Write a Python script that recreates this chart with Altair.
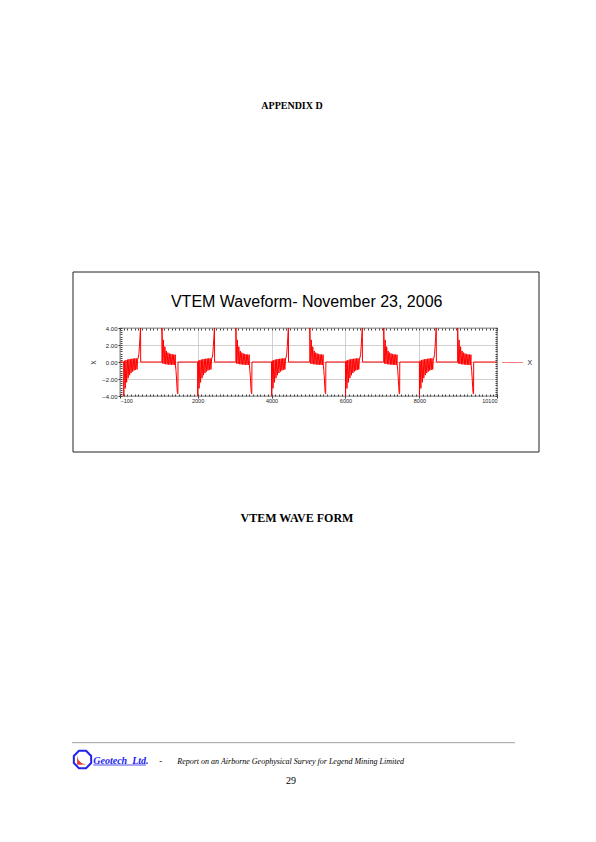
import altair as alt
import pandas as pd

# ---------------- data ----------------
page_heading = ["APPENDIX D"]
chart_title = ["VTEM Waveform- November 23, 2006"]
caption = ["VTEM WAVE FORM"]
company = ["Geotech\u00a0\u00a0Ltd."]
dash = ["-"]
report_line = ["Report on an Airborne Geophysical Survey for Legend Mining Limited"]
page_number = ["29"]

series_name = "X"
cycle_starts = [0, 2000, 4000, 6000, 8000]
# one waveform period (time offset within the period, amplitude)
cycle_offset = [0, 2, 20, 40, 60, 80, 100, 120, 140, 160, 180, 200, 220, 240, 260, 280, 300, 320, 340, 360, 380, 390,
                410, 425, 440, 452, 456, 460,
                1035, 1036, 1055, 1075, 1095, 1115, 1135, 1155, 1175, 1195, 1215, 1235, 1255, 1275, 1295, 1315, 1335,
                1355, 1375, 1395, 1400,
                1415, 1430, 1442, 1452, 1460, 1466, 1470]
cycle_value = [0.0, -4.0, 0.15, -3.1, 0.22, -2.4, 0.28, -1.9, 0.32, -1.55, 0.35, -1.3, 0.38, -1.12, 0.40, -1.0, 0.42,
               -0.93, 0.43, -0.88, 0.45, 0.45,
               0.9, 1.8, 2.9, 3.8, 4.0, 0.0,
               0.0, 4.0, -0.18, 2.6, -0.22, 1.8, -0.26, 1.3, -0.28, 1.1, -0.30, 1.0, -0.32, 0.95, -0.33, 0.90, -0.34,
               0.88, -0.35, 0.86, -0.35,
               -1.0, -2.0, -3.0, -3.6, -3.75, -3.6, 0.0]
lead_t, lead_v = [-100], [0.0]
tail_t, tail_v = [10100], [0.0]

x_label_values = [-100, 2000, 4000, 6000, 8000, 10100]
y_label_values = [-4, -2, 0, 2, 4]
x_minor = list(range(-100, 10101, 100))
y_minor = [v / 4 for v in range(-16, 17)]

assert len(cycle_offset) == len(cycle_value)

ts, vs = list(lead_t), list(lead_v)
for s in cycle_starts:
    ts += [s + o for o in cycle_offset]
    vs += cycle_value
ts += tail_t
vs += tail_v
df = pd.DataFrame({"t": ts, "v": vs, "series": series_name, "i": range(len(ts))})

# ---------------- layout ----------------
OX, OY, W, H = 120, 328, 377, 68
PAGE_W, PAGE_H = 596, 842


def px(x):
    return x - OX


def py(y):
    return y - OY


def xs():
    return alt.Scale(domain=[-100, 10100], nice=False, zero=False)


def ys():
    return alt.Scale(domain=[-4, 4], nice=False, zero=False)


AX_FONT = "Liberation Sans"

main = alt.Chart(df).mark_line(strokeWidth=1, clip=True).encode(
    x=alt.X("t:Q", scale=xs(), axis=alt.Axis(
        values=x_label_values, format="d", labelFlush=True, labelOverlap=False,
        labelFontSize=5.5, labelFont=AX_FONT, labelColor="#222", labelPadding=0,
        tickSize=2, tickColor="#333", grid=True, gridColor="#c4c4c4", gridWidth=0.8,
        domain=False, title=None)),
    y=alt.Y("v:Q", scale=ys(), axis=alt.Axis(
        values=y_label_values, format=".2f", labelOverlap=False,
        labelFontSize=6, labelFont=AX_FONT, labelColor="#222", labelPadding=1,
        tickSize=2, tickColor="#333", grid=True, gridColor="#c4c4c4", gridWidth=0.8,
        domain=False, title="X", titleFont=AX_FONT, titleFontSize=6.5, titleFontWeight="normal",
        titleColor="#222", titleX=px(93), titleY=H / 2, titleAlign="center", titleBaseline="middle")),
    color=alt.Color("series:N", scale=alt.Scale(range=["#ff0000"]), legend=alt.Legend(
        orient="none", legendX=px(501.5), legendY=py(362) - 10.5, title=None, padding=0,
        symbolType="stroke", symbolSize=441, symbolStrokeWidth=1, symbolOpacity=0.5,
        labelFont=AX_FONT, labelFontSize=7, labelColor="#222", labelOffset=4)),
    order="i:Q",
)

minor_bl = alt.Chart(df).mark_line(strokeOpacity=0).encode(
    x=alt.X("t:Q", scale=xs(), axis=alt.Axis(orient="bottom", values=x_minor, labels=False, tickSize=2,
                                             tickColor="#444", offset=-2, domain=False, grid=False, title=None)),
    y=alt.Y("v:Q", scale=ys(), axis=alt.Axis(orient="left", values=y_minor, labels=False, tickSize=2,
                                             tickColor="#444", offset=-2, domain=False, grid=False, title=None)),
)
minor_tr = alt.Chart(df).mark_line(strokeOpacity=0).encode(
    x=alt.X("t:Q", scale=xs(), axis=alt.Axis(orient="top", values=x_minor, labels=False, tickSize=2,
                                             tickColor="#444", offset=-2, domain=False, grid=False, title=None)),
    y=alt.Y("v:Q", scale=ys(), axis=alt.Axis(orient="right", values=y_minor, labels=False, tickSize=2,
                                             tickColor="#444", offset=-2, domain=False, grid=False, title=None)),
)


def one():
    return pd.DataFrame({"k": [0]})


def page_text(values, x, y, **kw):
    return alt.Chart(pd.DataFrame({"label": values})).mark_text(baseline="alphabetic", **kw).encode(
        x=alt.value(px(x)), y=alt.value(py(y)), text="label:N")


SERIF = "Liberation Serif"
texts = [
    page_text(page_heading, 292, 108.5, font=SERIF, fontSize=10, fontWeight="bold", align="center", color="#000"),
    page_text(chart_title, 306.7, 307, font="Liberation Sans", fontSize=16, align="center", color="#000"),
    page_text(caption, 297, 522, font=SERIF, fontSize=12, fontWeight="bold", align="center", color="#000"),
    page_text(company, 93.3, 763.5, font=SERIF, fontSize=10, fontWeight="bold", fontStyle="italic",
              align="left", color="#2222ee"),
    page_text(dash, 160.7, 763.5, font=SERIF, fontSize=9, align="center", color="#000"),
    page_text(report_line, 177.3, 763.5, font=SERIF, fontSize=8, fontStyle="italic", align="left", color="#000"),
    page_text(page_number, 291, 784, font=SERIF, fontSize=10, align="center", color="#000"),
]

box = alt.Chart(one()).mark_rect(fillOpacity=0, stroke="#222", strokeWidth=1).encode(
    x=alt.value(px(73)), x2=alt.value(px(539)), y=alt.value(py(272)), y2=alt.value(py(452)))
footer_rule = alt.Chart(one()).mark_rule(color="#a0a0a0", strokeWidth=1).encode(
    x=alt.value(px(72)), x2=alt.value(px(515)), y=alt.value(py(742.7)))
underline = alt.Chart(one()).mark_rule(color="#2222ee", strokeWidth=0.8).encode(
    x=alt.value(px(93.3)), x2=alt.value(px(146)), y=alt.value(py(765)))

OCTAGON = "M-0.41,-1L0.41,-1L1,-0.41L1,0.41L0.41,1L-0.41,1L-1,0.41L-1,-0.41Z"
SWOOSH = "M-0.62,-0.55C-0.55,0.25 -0.15,0.5 0.55,0.58L-0.62,0.62Z"
logo_ring = alt.Chart(one()).mark_point(shape=OCTAGON, filled=False, stroke="#2222ee", strokeWidth=2,
                                        size=300, opacity=1).encode(
    x=alt.value(px(82.5)), y=alt.value(py(759.5)))
logo_swoosh = alt.Chart(one()).mark_point(shape=SWOOSH, filled=True, fill="#e8342c", size=300,
                                          opacity=1, strokeWidth=0).encode(
    x=alt.value(px(82.5)), y=alt.value(py(759.5)))

chart = alt.layer(
    main, minor_bl, minor_tr, box, footer_rule, underline, logo_ring, logo_swoosh, *texts
).resolve_scale(x="independent", y="independent").properties(
    width=W, height=H,
    autosize=alt.AutoSizeParams(type="none"),
    padding={"left": OX, "top": OY, "right": PAGE_W - OX - W, "bottom": PAGE_H - OY - H},
    background="white",
).configure_view(stroke="#333", strokeWidth=1.2)

chart.save("out.html", embed_options={"renderer": "svg", "actions": False})
